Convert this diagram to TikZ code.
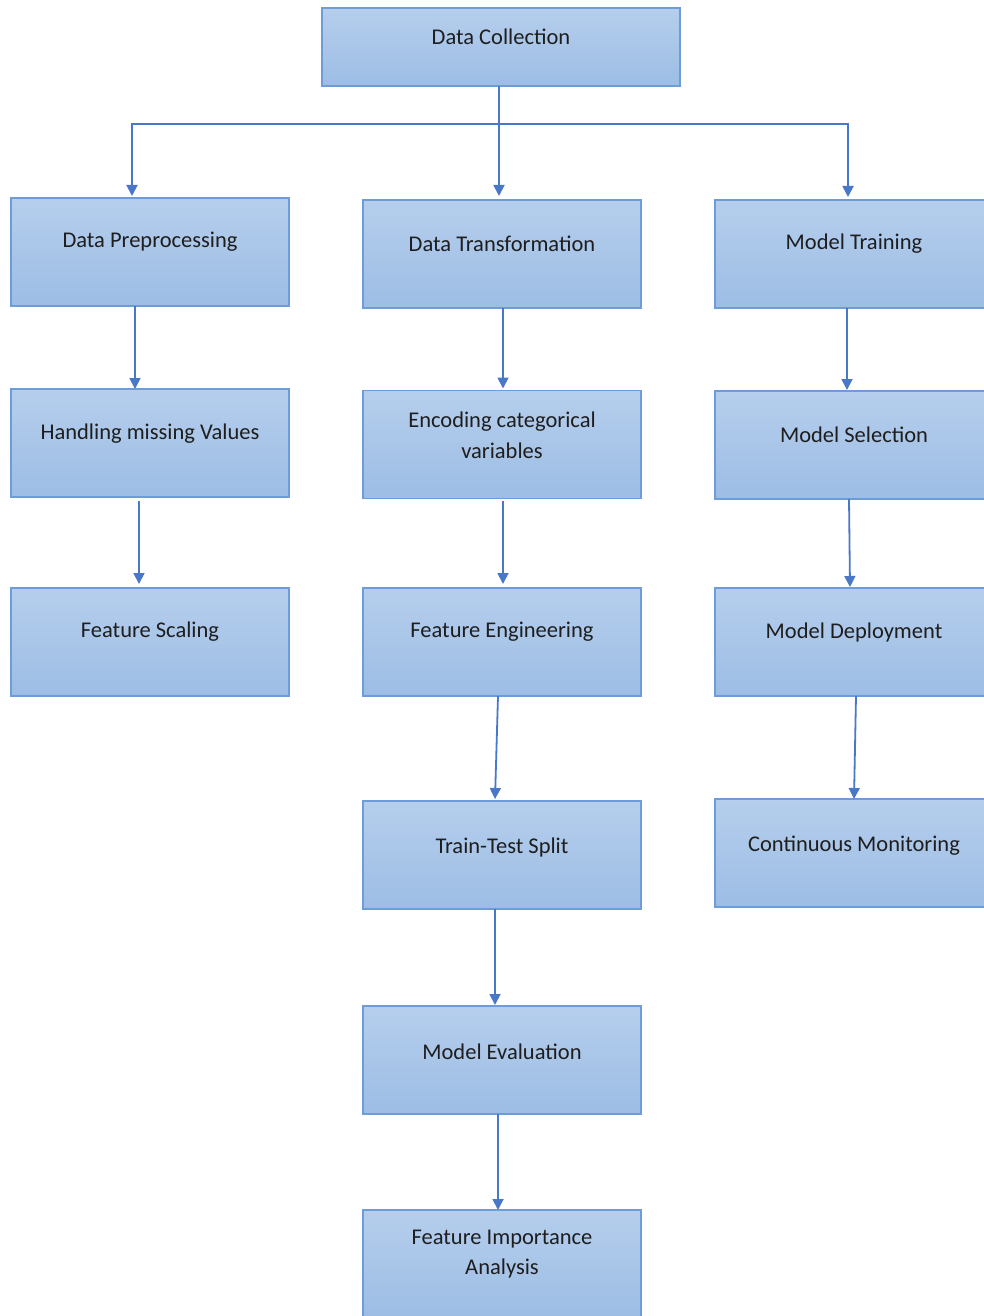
\documentclass[tikz,border=0pt]{standalone}
\usepackage{fontspec}
\setmainfont{Carlito}
\usetikzlibrary{arrows.meta}
\definecolor{bordc}{HTML}{6E9CD8}
\definecolor{boxtop}{HTML}{B5CEEC}
\definecolor{boxbot}{HTML}{9DBDE5}
\definecolor{arrc}{HTML}{4A78C8}
\definecolor{txtc}{HTML}{1E1E1E}
\begin{document}
\begin{tikzpicture}[x=1pt,y=-1pt,
  box/.style={draw=bordc, line width=1.5pt, top color=boxtop, bottom color=boxbot,
    minimum width=278pt, minimum height=108pt, inner sep=0pt, outer sep=0pt},
  txt/.style={font=\fontsize{22.5}{30.5}\selectfont, text=txtc, align=center},
  conn/.style={draw=arrc, line width=1.8pt},
  arr/.style={conn, -{Triangle[length=11pt,width=11pt]}}]
\useasboundingbox[fill=white] (0,0) rectangle (984,1316);

% boxes
\node[box, minimum width=358pt, minimum height=78pt] (dc) at (501,47) {};
\node[box] (dp) at (150,252) {};
\node[box] (dt) at (502,254) {};
\node[box] (mt) at (854,254) {};
\node[box] (hm) at (150,443) {};
\node[box] (ec) at (502,444.5) {};
\node[box] (ms) at (854,445) {};
\node[box] (fs) at (150,642) {};
\node[box] (fe) at (502,642) {};
\node[box] (md) at (854,642) {};
\node[box] (tts) at (502,855) {};
\node[box] (cm) at (854,853) {};
\node[box] (me) at (502,1060) {};
\node[box] (fia) at (502,1264) {};

% texts
\node[txt] (tdc) at ([yshift=-29pt]dc.north) {Data Collection};
\node[txt] (tdp) at ([yshift=-44pt]dp.north) {Data Preprocessing};
\node[txt] (tdt) at ([yshift=-44pt]dt.north) {Data Transformation};
\node[txt] (tmt) at ([yshift=-44pt]mt.north) {Model Training};
\node[txt] (thm) at ([yshift=-45pt]hm.north) {Handling missing Values};
\node[txt] (tec) at ([yshift=-45pt]ec.north) {Encoding categorical\\variables};
\node[txt] (tms) at ([yshift=-44pt]ms.north) {Model Selection};
\node[txt] (tfs) at ([yshift=-44pt]fs.north) {Feature Scaling};
\node[txt] (tfe) at ([yshift=-44pt]fe.north) {Feature Engineering};
\node[txt] (tmd) at ([yshift=-44pt]md.north) {Model Deployment};
\node[txt] (ttts) at ([yshift=-46pt]tts.north) {Train-Test Split};
\node[txt] (tcm) at ([yshift=-47pt]cm.north) {Continuous Monitoring};
\node[txt] (tme) at ([yshift=-46pt]me.north) {Model Evaluation};
\node[txt] (tfia) at ([yshift=-44pt]fia.north) {Feature Importance\\Analysis};

% connectors from Data Collection
\coordinate (j) at (499,124);
\draw[conn] ([xshift=-2pt]dc.south) -- (j);
\draw[arr] (j) -| ([xshift=-18pt,yshift=2pt]dp.north);
\draw[arr] (j) -- ([xshift=-3pt,yshift=4pt]dt.north);
\draw[arr] (j) -| ([xshift=-6pt,yshift=3pt]mt.north);

% left column
\draw[arr] ([xshift=-15pt]dp.south) -- ([xshift=-15pt]hm.north);
\draw[arr] ([xshift=-11pt,yshift=-4pt]hm.south) -- ([xshift=-11pt,yshift=4pt]fs.north);

% middle column
\draw[arr] ([xshift=1pt]dt.south) -- ([xshift=1pt,yshift=2pt]ec.north);
\draw[arr] ([xshift=1pt,yshift=-2pt]ec.south) -- ([xshift=1pt,yshift=4pt]fe.north);
\draw[arr] ([xshift=-4pt]fe.south) -- ([xshift=-7pt,yshift=2pt]tts.north);
\draw[arr] ([xshift=-7pt]tts.south) -- ([xshift=-7pt,yshift=1pt]me.north);
\draw[arr] ([xshift=-4pt]me.south) -- ([xshift=-4pt]fia.north);

% right column
\draw[arr] ([xshift=-7pt]mt.south) -- ([xshift=-7pt,yshift=1pt]ms.north);
\draw[arr] ([xshift=-5pt]ms.south) -- ([xshift=-4pt,yshift=1pt]md.north);
\draw[arr] ([xshift=2pt]md.south) -- ([xshift=0pt]cm.north);
\end{tikzpicture}
\end{document}
